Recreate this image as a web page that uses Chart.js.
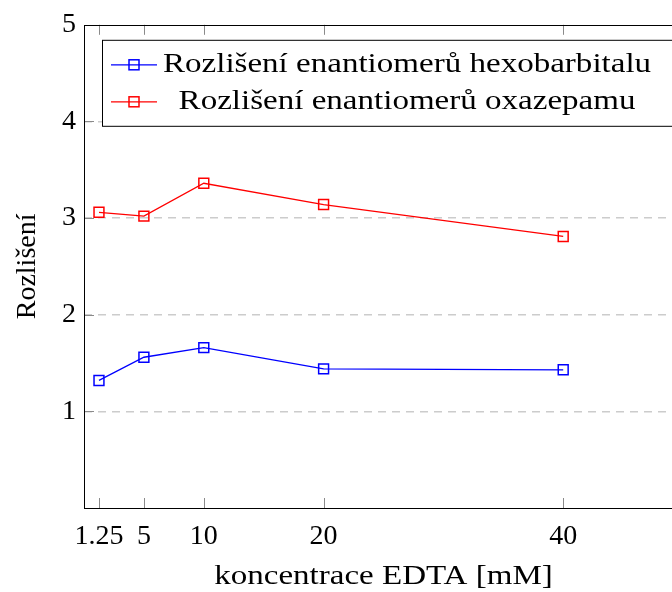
<!DOCTYPE html>
<html>
<head>
<meta charset="utf-8">
<script src="https://cdn.jsdelivr.net/npm/chart.js@4/dist/chart.umd.min.js"></script>
<style>
  html, body { margin: 0; padding: 0; background: #fff; overflow: hidden; }
  canvas { display: block; }
</style>
</head>
<body>
<canvas id="linechart" width="700" height="592"></canvas>
<script>
// concentrations of EDTA [mM] and resolution values
const edta = [1.25, 5, 10, 20, 40];
const hexobarbital = [1.32, 1.56, 1.66, 1.44, 1.43];
const oxazepam = [3.06, 3.02, 3.36, 3.14, 2.81];
const xTicks = [1.25, 5, 10, 20, 40];
const yTicks = [1, 2, 3, 4, 5];

const serif = "'Liberation Serif', 'DejaVu Serif', serif";
const tickLen = 10;
const wide = 1.18; // horizontal stretch for the long captions

// draws text stretched horizontally, centred on (x, y)
function wideText(ctx, text, x, y) {
  ctx.save();
  ctx.translate(x, y);
  ctx.scale(wide, 1);
  ctx.textAlign = 'center';
  ctx.textBaseline = 'middle';
  ctx.fillText(text, 0, 0);
  ctx.restore();
}

// frame, inner ticks, axis titles and the boxed legend, pgfplots style
const framePlugin = {
  id: 'frame',
  afterDatasetsDraw(chart) {
    const ctx = chart.ctx;
    const a = chart.chartArea;
    const xs = chart.scales.x, ys = chart.scales.y;
    ctx.save();
    ctx.strokeStyle = '#8a8a8a';
    ctx.lineWidth = 1;
    ctx.beginPath();
    xTicks.forEach(v => {
      const px = Math.round(xs.getPixelForValue(v)) + 0.5;
      ctx.moveTo(px, a.bottom); ctx.lineTo(px, a.bottom - tickLen);
      ctx.moveTo(px, a.top); ctx.lineTo(px, a.top + tickLen);
    });
    yTicks.forEach(v => {
      const py = Math.round(ys.getPixelForValue(v)) + 0.5;
      ctx.moveTo(a.left, py); ctx.lineTo(a.left + tickLen, py);
      ctx.moveTo(a.right, py); ctx.lineTo(a.right - tickLen, py);
    });
    ctx.stroke();

    ctx.strokeStyle = '#000';
    ctx.strokeRect(Math.round(a.left) + 0.5, Math.round(a.top) + 0.5,
                   Math.round(a.right - a.left), Math.round(a.bottom - a.top));

    // axis titles
    ctx.fillStyle = '#000';
    ctx.font = '28px ' + serif;
    wideText(ctx, 'koncentrace EDTA [mM]', (a.left + a.right) / 2, 577);
    ctx.save();
    ctx.translate(28, (a.top + a.bottom) / 2);
    ctx.rotate(-Math.PI / 2);
    ctx.textAlign = 'center';
    ctx.textBaseline = 'middle';
    ctx.fillText('Rozlišení', 0, 0);
    ctx.restore();

    // legend
    const bx = a.left + 18, by = a.top + 15, bh = 86;
    ctx.fillStyle = '#fff';
    ctx.fillRect(bx, by, a.right - bx + 10, bh);
    ctx.strokeStyle = '#000';
    ctx.strokeRect(bx + 0.5, by + 0.5, a.right - bx + 10, bh);
    const sets = chart.data.datasets;
    const widths = sets.map(d => ctx.measureText(d.label).width * wide);
    const colW = Math.max(...widths);
    const textX = bx + 61;
    sets.forEach((d, i) => {
      const y = by + 25 + i * 37;
      ctx.strokeStyle = d.borderColor;
      ctx.lineWidth = 1.3;
      ctx.beginPath();
      ctx.moveTo(bx + 9, y); ctx.lineTo(bx + 55, y);
      ctx.stroke();
      ctx.lineWidth = 1.5;
      ctx.strokeRect(bx + 32 - 5, y - 5, 10, 10);
      ctx.fillStyle = '#000';
      wideText(ctx, d.label, textX + colW / 2, y);
    });
    ctx.restore();
  }
};

new Chart(document.getElementById('linechart'), {
  type: 'line',
  data: {
    datasets: [{
      label: 'Rozlišení enantiomerů hexobarbitalu',
      data: edta.map((x, i) => ({ x: x, y: hexobarbital[i] })),
      borderColor: '#0000ff',
      backgroundColor: 'transparent',
      borderWidth: 1.3,
      pointStyle: 'rect',
      pointRadius: 7,
      pointBorderWidth: 1.5,
      tension: 0
    }, {
      label: 'Rozlišení enantiomerů oxazepamu',
      data: edta.map((x, i) => ({ x: x, y: oxazepam[i] })),
      borderColor: '#ff0000',
      backgroundColor: 'transparent',
      borderWidth: 1.3,
      pointStyle: 'rect',
      pointRadius: 7,
      pointBorderWidth: 1.5,
      tension: 0
    }]
  },
  options: {
    responsive: false,
    animation: false,
    layout: { padding: { left: 0, top: 23, right: 17, bottom: 0 } },
    plugins: {
      legend: { display: false },
      tooltip: { enabled: false }
    },
    scales: {
      x: {
        type: 'linear',
        min: 0,
        max: 50,
        afterBuildTicks: s => { s.ticks = xTicks.map(v => ({ value: v })); },
        afterFit: s => { s.height = 84; },
        grid: { display: false, drawTicks: false },
        border: { display: false },
        ticks: {
          autoSkip: false,
          maxRotation: 0,
          padding: 12,
          color: '#000',
          font: { family: serif, size: 28 },
          callback: v => String(v)
        }
      },
      y: {
        min: 0,
        max: 5,
        afterBuildTicks: s => { s.ticks = yTicks.map(v => ({ value: v })); },
        afterFit: s => { s.width = 84; },
        grid: {
          drawTicks: false,
          color: c => (c.tick && c.tick.value > 0 && c.tick.value < 5) ? '#cccccc' : 'transparent',
          lineWidth: 1.5
        },
        border: { display: false, dash: [8, 6] },
        ticks: {
          padding: 8,
          color: '#000',
          font: { family: serif, size: 28 },
          callback: v => String(v)
        }
      }
    }
  },
  plugins: [framePlugin]
});
</script>
</body>
</html>
